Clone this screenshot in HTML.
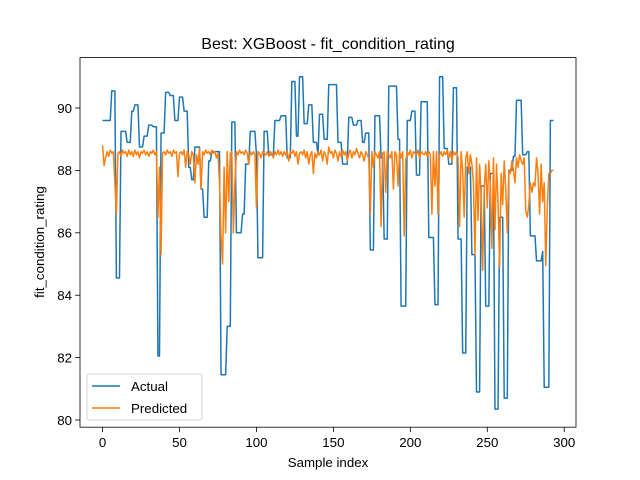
<!DOCTYPE html>
<html><head><meta charset="utf-8"><style>
body{margin:0;background:#fff;}
svg{display:block;font-family:"Liberation Sans","DejaVu Sans",sans-serif;}
</style></head><body>
<svg id="chart" width="640" height="480"></svg>
<script>
const xTicks=[0,50,100,150,200,250,300];
const yTicks=[80,82,84,86,88,90];
const actualValues=[
89.6,89.6,89.6,89.6,89.6,89.6, 90.55,90.55,90.55, 84.55,84.55,84.55, 89.25,89.25,89.25,89.25,
88.9,88.9,88.9, 89.9,89.9, 90.1,90.1,90.1, 88.75,88.75,88.75, 89.1,89.1,89.1, 89.45,89.45,89.45,
89.4,89.4,89.4, 82.05,82.05, 89.2,89.2,89.2, 90.5,90.5,90.5, 90.4,90.4,90.4, 89.6,89.6,89.6,
90.35,90.35,90.35, 89.9,89.9,89.9, 88.1,88.1, 87.7,87.7, 88.75,88.75,88.75,88.75, 87.4,87.4,
86.5,86.5,86.5, 88.3,88.3, 88.6,88.6,88.6,88.6,88.6,88.6, 81.45,81.45,81.45,81.45, 83.0,83.0,83.0,
89.55,89.55,89.55, 86.0,86.0,86.0,86.0, 86.6,86.6, 88.2,88.2,88.2, 89.25,89.25,89.25,89.25, 88.5,
85.2,85.2,85.2,85.2, 89.25,89.25,89.25, 88.5,88.5,88.5,88.5, 89.6,89.6,89.6,89.6, 89.75,89.75,89.75,89.75,
88.4,88.4,88.4, 90.85,90.85,90.85, 89.1,89.1, 91.0,91.0,91.0, 89.5,89.5,89.5, 90.1,90.1,90.1,
88.9,88.9,88.9, 88.5, 89.8,89.8,89.8, 89.0,89.0,89.0, 90.75,90.75,90.75,90.75,90.75,90.75,
88.9,88.9,88.9, 88.2,88.2,88.2,88.2, 89.7,89.7,89.7, 89.45,89.45,89.45, 89.6,89.6,89.6, 88.9,88.9,
89.2,89.2,89.2, 85.45,85.45,85.45, 89.75,89.75,89.75,89.75, 88.4,88.4, 85.8,85.8,85.8,
90.7,90.7,90.7,90.7,90.7,90.7, 89.0,89.0, 83.65,83.65,83.65,83.65, 89.6,89.6,89.6, 89.9,89.9,89.9,
87.85,87.85,87.85, 90.2,90.2,90.2,90.2,90.2, 85.85,85.85,85.85,85.85, 83.7,83.7,83.7, 91.0,91.0,91.0,
88.7,88.7,88.7, 88.2,88.2,88.2, 90.65,90.65,90.65, 85.8,85.8,85.8, 82.15,82.15,82.15, 88.1,88.1,88.1,
85.3,85.3,85.3, 80.9,80.9,80.9, 87.5,87.5,87.5, 83.65,83.65,83.65, 87.9,87.9,87.9, 80.35,80.35,80.35,
86.5,86.5,86.5, 80.7,80.7,80.7, 88.0,88.0,88.0, 88.45,88.45, 90.25,90.25,90.25,90.25, 88.5,88.5,88.5,
88.6,88.6, 85.9,85.9,85.9,85.9, 85.1,85.1,85.1,85.1, 85.4, 81.05,81.05,81.05,81.05, 89.6,89.6,89.6];
const predictedValues=[
88.8,88.15,88.4,88.6,88.45,88.65,88.55,88.6,87.6,86.6,
88.55,88.6,88.45,88.65,88.55,88.6,88.45,88.65,88.5,88.6,
88.45,88.65,88.5,88.6,88.4,88.6,88.55,88.65,88.5,88.6,
88.45,88.6,88.55,88.65,88.5,88.6,86.5,88.1,85.3,88.55,
88.6,88.5,88.65,88.55,88.6,88.45,88.65,88.55,88.6,87.8,
88.55,88.6,88.5,88.65,88.1,88.6,88.5,88.2,88.6,88.5,
87.6,88.5,88.2,88.7,87.4,88.6,88.5,88.65,88.55,88.6,
88.5,88.65,88.55,88.6,88.4,88.55,87.6,85.9,85.0,88.1,
86.0,88.6,87.0,88.55,88.6,86.0,87.6,88.6,88.5,88.65,
88.55,88.6,88.5,88.65,88.55,88.2,88.6,88.5,88.6,88.5,
86.8,88.6,88.55,88.4,88.6,88.55,88.5,88.6,88.45,88.6,
88.55,88.4,88.6,88.5,88.65,88.5,88.6,88.45,88.6,88.5,
88.6,88.3,88.6,88.55,88.65,88.45,88.6,88.2,88.55,88.6,
88.5,88.65,88.4,88.6,88.2,88.5,88.6,87.9,88.55,88.4,
88.6,88.5,88.65,88.3,88.6,88.5,88.2,88.75,88.55,88.6,
88.4,88.65,88.55,88.3,88.6,88.45,88.65,88.5,88.6,88.3,
88.55,88.65,88.4,88.6,88.5,88.7,88.55,88.4,88.6,88.5,
88.3,88.6,88.5,88.4,86.6,88.6,88.1,88.6,88.5,88.4,
88.6,86.2,88.55,88.6,87.3,88.6,88.5,88.4,88.6,87.4,
88.6,88.5,87.5,88.6,88.4,88.6,85.9,88.3,88.6,88.5,
88.65,88.4,88.6,88.55,88.5,88.65,88.4,88.6,88.55,88.5,
88.6,88.45,88.6,88.5,86.6,88.6,87.5,88.6,86.6,88.5,
88.6,88.45,88.6,88.5,88.65,88.4,88.6,88.3,88.6,88.5,
88.6,88.4,86.2,88.6,88.0,86.5,88.4,88.6,87.9,88.5,
88.2,87.6,85.3,88.4,86.4,88.2,87.2,84.8,87.4,88.2,
86.8,88.3,87.5,85.5,88.4,86.1,88.2,87.0,84.9,87.9,
86.9,88.3,87.4,86.0,88.0,87.9,88.3,88.0,87.6,88.4,
88.1,88.5,88.3,88.2,88.4,86.7,86.5,86.9,87.6,87.3,
87.6,87.5,88.4,87.9,86.6,88.2,87.0,87.6,84.95,86.8,
87.9,87.9,88.0,88.0];

const NS="http://www.w3.org/2000/svg";
const svg=document.getElementById('chart');
const L=80,R=576,T=57.6,B=427.2;
const n=actualValues.length;
const xMin=-(n-1)*0.05,xMax=(n-1)*1.05;
const yMin=79.77,yMax=91.615;
const sx=v=>L+(v-xMin)/(xMax-xMin)*(R-L);
const sy=v=>B-(v-yMin)/(yMax-yMin)*(B-T);
function mk(tag,attrs,parent){const e=document.createElementNS(NS,tag);for(const k in attrs)e.setAttribute(k,attrs[k]);(parent||svg).appendChild(e);return e;}

function series(vals,color,name){
  const d=vals.map((v,i)=>(i?'L':'M')+sx(i).toFixed(2)+','+sy(v).toFixed(2)).join('');
  const p=mk('path',{d:d,fill:'none',stroke:color,'stroke-width':1.5,'stroke-linejoin':'round'});
  
  
}
series(actualValues,'#1f77b4','actual-line');
series(predictedValues,'#ff7f0e','predicted-line');

const frame=mk('rect',{x:L,y:T,width:R-L,height:B-T,fill:'none',stroke:'#000','stroke-width':0.8});



xTicks.forEach(t=>{
  const x=sx(t);
  mk('line',{x1:x,y1:B,x2:x,y2:B+4.9,stroke:'#000','stroke-width':0.8});
  const tx=mk('text',{x:x,y:B+20,'text-anchor':'middle','font-size':13.3,fill:'#000'});
  tx.textContent=t;
  
  
});
yTicks.forEach(t=>{
  const y=sy(t);
  mk('line',{x1:L,y1:y,x2:L-4.9,y2:y,stroke:'#000','stroke-width':0.8});
  const tx=mk('text',{x:L-8,y:y+4.8,'text-anchor':'end','font-size':13.3,fill:'#000'});
  tx.textContent=t;
  
  
});
</script>
<script>
(function(){
const NS="http://www.w3.org/2000/svg";
const svg=document.getElementById('chart');
function mk(tag,attrs){const e=document.createElementNS(NS,tag);for(const k in attrs)e.setAttribute(k,attrs[k]);svg.appendChild(e);return e;}
const title=mk('text',{x:328,y:49,'text-anchor':'middle','font-size':16});
title.textContent='Best: XGBoost - fit_condition_rating';


const xl=mk('text',{x:328,y:467,'text-anchor':'middle','font-size':13.3});
xl.textContent='Sample index';


const yl=mk('text',{x:0,y:0,'text-anchor':'middle','font-size':13.3,transform:'translate(44,242) rotate(-90)'});
yl.textContent='fit_condition_rating';


const lg=mk('rect',{x:87,y:374,width:115,height:46,rx:2,fill:'#fff','fill-opacity':0.8,stroke:'#ccc','stroke-width':0.8});


[['Actual','#1f77b4',386],['Predicted','#ff7f0e',408]].forEach(([t,c,y])=>{
  const ln=mk('line',{x1:92,y1:y,x2:120,y2:y,stroke:c,'stroke-width':1.5});
  
  
  const tx=mk('text',{x:131,y:y+4.8,'font-size':13.3});
  tx.textContent=t;
  
  
});
})();
</script>
</body></html>
